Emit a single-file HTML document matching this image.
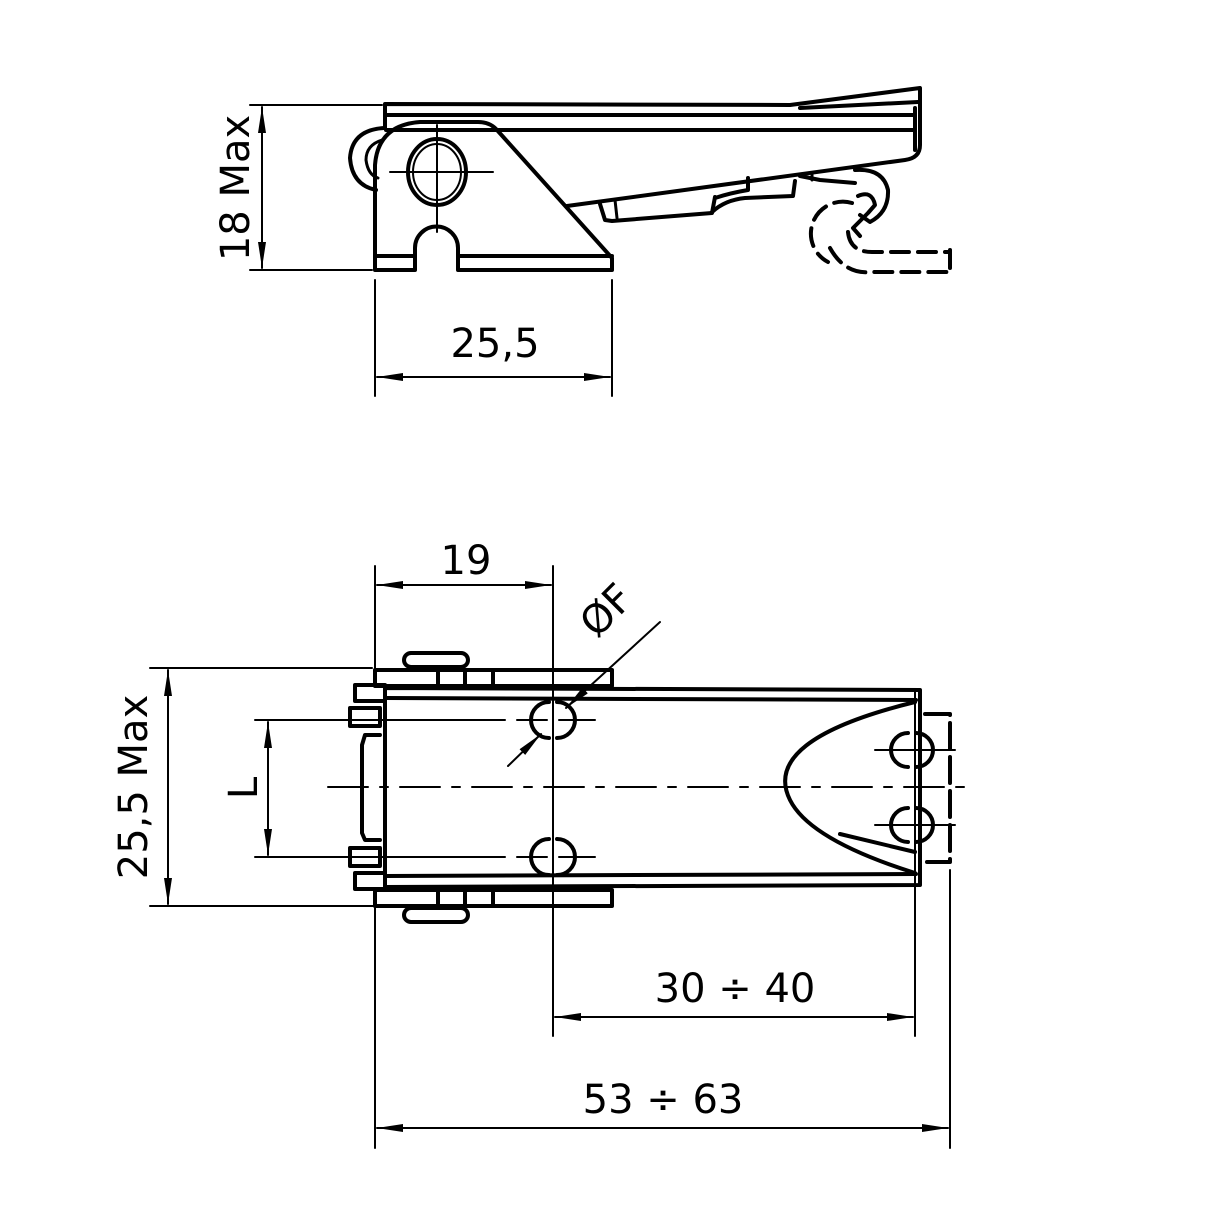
<!DOCTYPE html>
<html><head><meta charset="utf-8"><style>
html,body{margin:0;padding:0;background:#fff}
svg{display:block}
text{font-family:"DejaVu Sans","Liberation Sans",sans-serif;font-size:40px;fill:#000}
</style></head><body>
<svg width="1217" height="1217" viewBox="0 0 1217 1217" xmlns="http://www.w3.org/2000/svg">
<defs>
<marker id="a" viewBox="0 0 26 9" refX="26" refY="4.5" markerWidth="26" markerHeight="9" markerUnits="userSpaceOnUse" orient="auto-start-reverse">
<path d="M0,0.5 L26,4.5 L0,8.5 z" fill="#000"/></marker>
</defs>
<g fill="none" stroke="#000" stroke-linejoin="round" stroke-linecap="round">
<!-- TOP VIEW -->
<g stroke-width="2">
<line x1="250" y1="105" x2="382" y2="105"/>
<line x1="250" y1="270" x2="372" y2="270"/>
<line x1="262" y1="107" x2="262" y2="268" marker-start="url(#a)" marker-end="url(#a)"/>
<line x1="375" y1="280" x2="375" y2="396"/>
<line x1="612" y1="280" x2="612" y2="396"/>
<line x1="377" y1="377" x2="610" y2="377" marker-start="url(#a)" marker-end="url(#a)"/>
</g>
<g stroke-width="4">
<path d="M385,128 L385,104 L790,105 L920,88 L920,145 Q920,158 905,160 L567,206"/>
<line x1="386" y1="115" x2="915" y2="115"/>
<line x1="386" y1="130" x2="915" y2="130"/>
<path d="M800,108 L918,102"/>
<line x1="915" y1="108" x2="915" y2="150"/>
<path d="M375,270 L375,165 Q378,125 420,122 L478,122 Q490,122 497,130 L612,258 L612,270 L458,270 L458,248 A21.5,21.5 0 0 0 415,248 L415,270 Z"/>
<line x1="376" y1="256" x2="415" y2="256"/>
<line x1="458" y1="256" x2="612" y2="256"/>
<ellipse cx="437" cy="172" rx="29" ry="33"/>
<ellipse cx="437" cy="172" rx="24" ry="28" stroke-width="2"/>
<path d="M384,128 Q352,130 350,158 Q352,185 376,190"/>
<path d="M382,140 Q366,145 366,160 Q368,175 378,178" stroke-width="3"/>
<path d="M600,204 L605,220 L612,221 L712,213 L715,197"/>
<path d="M615,200 L617,218" stroke-width="3"/>
<path d="M712,212 Q725,200 745,198 L793,196 L795,181"/>
<path d="M715,198 Q730,193 748,190 L748,178"/>
<path d="M800,176 L820,180 L855,183"/>
<path d="M812,173 L812,180" stroke-width="3"/>
<path d="M855,170 Q883,168 888,190 Q889,212 870,222 L860,215"/>
<path d="M858,196 Q872,190 875,205 L868,213 L853,228 L860,236"/>
</g>
<g stroke-width="4" stroke-dasharray="18,9">
<path d="M852,203 A32,32 0 0 0 828,262"/>
<path d="M830,248 Q845,275 872,272 L950,272"/>
<path d="M848,232 Q850,252 872,252 L950,252"/>
<line x1="950" y1="250" x2="950" y2="272"/>
</g>
<g stroke-width="2">
<line x1="390" y1="172" x2="493" y2="172"/>
<line x1="437" y1="125" x2="437" y2="232"/>
</g>

<!-- BOTTOM VIEW -->
<g stroke-width="2">
<line x1="375" y1="566" x2="375" y2="682"/>
<line x1="553" y1="566" x2="553" y2="1036"/>
<line x1="377" y1="585" x2="551" y2="585" marker-start="url(#a)" marker-end="url(#a)"/>
<line x1="150" y1="668" x2="372" y2="668"/>
<line x1="150" y1="906" x2="375" y2="906"/>
<line x1="168" y1="670" x2="168" y2="904" marker-start="url(#a)" marker-end="url(#a)"/>
<line x1="255" y1="720" x2="595" y2="720" stroke-dasharray="250,12,30,12,200"/>
<line x1="255" y1="857" x2="595" y2="857" stroke-dasharray="250,12,30,12,200"/>
<line x1="268" y1="722" x2="268" y2="855" marker-start="url(#a)" marker-end="url(#a)"/>
<line x1="328" y1="787" x2="975" y2="787" stroke-dasharray="40,12,8,12"/>
<line x1="875" y1="750" x2="955" y2="750"/>
<line x1="875" y1="825" x2="955" y2="825"/>
<line x1="915" y1="870" x2="915" y2="1036"/>
<line x1="555" y1="1017" x2="913" y2="1017" marker-start="url(#a)" marker-end="url(#a)"/>
<line x1="375" y1="905" x2="375" y2="1148"/>
<line x1="950" y1="870" x2="950" y2="1148"/>
<line x1="377" y1="1128" x2="948" y2="1128" marker-start="url(#a)" marker-end="url(#a)"/>
<line x1="660" y1="622" x2="566" y2="708" marker-end="url(#a)"/>
<line x1="508" y1="766" x2="541" y2="734" marker-end="url(#a)"/>
</g>
<g stroke-width="4">
<rect x="375" y="670" width="237" height="16"/>
<rect x="375" y="890" width="237" height="16"/>
<line x1="438" y1="670" x2="438" y2="686"/><line x1="465" y1="670" x2="465" y2="686"/><line x1="493" y1="670" x2="493" y2="686"/>
<line x1="438" y1="890" x2="438" y2="906"/><line x1="465" y1="890" x2="465" y2="906"/><line x1="493" y1="890" x2="493" y2="906"/>
<rect x="404" y="653" width="64" height="14" rx="7"/>
<rect x="404" y="908" width="64" height="14" rx="7"/>
<path d="M385,688 L920,690 L920,885 L385,887 Z"/>
<line x1="386" y1="698" x2="916" y2="700"/>
<line x1="386" y1="876" x2="916" y2="874"/>
<line x1="915" y1="692" x2="915" y2="885" stroke-width="2"/>
<rect x="355" y="685" width="30" height="16"/>
<rect x="350" y="708" width="30" height="18"/>
<rect x="350" y="848" width="30" height="18"/>
<rect x="355" y="873" width="30" height="16"/>
<path d="M380,735 L365,735 L362,745 L362,833 L365,840 L380,840"/>
<path d="M549,702 A18,18 0 0 0 549,738"/><path d="M557,702 A18,18 0 0 1 557,738"/>
<path d="M549,839 A18,18 0 0 0 549,875"/><path d="M557,839 A18,18 0 0 1 557,875"/>
<path d="M908,733 A17,17 0 0 0 908,767"/><path d="M916,733 A17,17 0 0 1 916,767"/>
<path d="M908,808 A17,17 0 0 0 908,842"/><path d="M916,808 A17,17 0 0 1 916,842"/>
<path d="M915,702 Q760,740 790,800 Q810,840 915,873"/>
<path d="M840,834 L915,852"/>
</g>
<g stroke-width="4" stroke-dasharray="26,8">
<path d="M925,714 L950,714 L950,862 L925,862"/>
</g>
</g>
<g>
<text x="495" y="357" text-anchor="middle">25,5</text>
<text transform="translate(249,188) rotate(-90)" text-anchor="middle">18 Max</text>
<text x="466" y="574" text-anchor="middle">19</text>
<text transform="translate(147,787) rotate(-90)" text-anchor="middle">25,5 Max</text>
<text transform="translate(257,788) rotate(-90)" text-anchor="middle">L</text>
<text transform="translate(616,620) rotate(-45)" text-anchor="middle">ØF</text>
<text x="735" y="1002" text-anchor="middle">30 ÷ 40</text>
<text x="663" y="1113" text-anchor="middle">53 ÷ 63</text>
</g>
</svg>
</body></html>
